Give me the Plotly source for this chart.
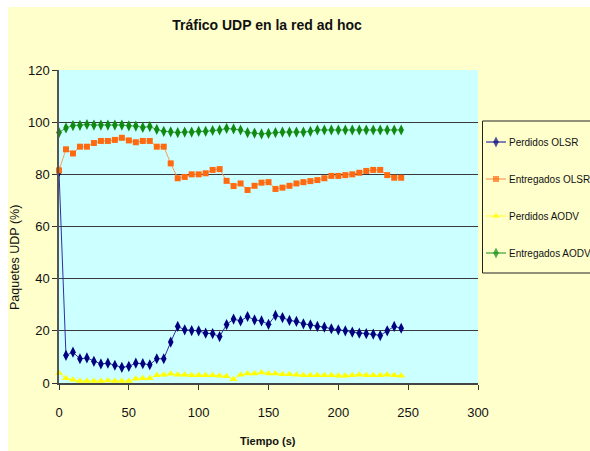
import plotly.graph_objects as go

# Time axis (s), one sample every 5 s
tiempo = list(range(0, 250, 5))

perdidos_olsr = [81, 10.6, 11.8, 9.3, 9.6, 8.3, 7.3, 7.6, 6.8, 6.0,
                 6.4, 7.6, 7.4, 7.0, 9.3, 9.3, 15.7, 21.7, 20.4, 20.1,
                 20.0, 19.1, 18.9, 17.8, 22.4, 24.5, 23.8, 25.5, 24.2, 23.8,
                 22.5, 25.9, 25.1, 24.0, 23.6, 22.7, 22.3, 21.7, 21.4, 20.8,
                 20.4, 20.0, 19.5, 19.1, 18.9, 18.7, 18.2, 20.0, 21.7, 21.0]

entregados_olsr = [81.5, 89.6, 88.0, 90.6, 90.6, 92.0, 92.8, 92.8, 93.2, 94.0,
                   93.0, 92.3, 92.8, 92.8, 90.6, 90.6, 84.2, 78.5, 79.0, 80.0,
                   80.0, 80.4, 81.7, 82.0, 77.5, 75.5, 76.5, 74.0, 75.6, 76.8,
                   77.0, 74.4, 74.9, 75.6, 76.5, 77.0, 77.4, 77.8, 78.5, 79.4,
                   79.4, 79.7, 80.0, 80.6, 81.3, 81.7, 81.7, 79.7, 78.7, 78.7]

perdidos_aodv = [3.8, 1.8, 1.2, 0.8, 0.8, 0.8, 0.8, 1.0, 0.8, 0.8,
                 0.8, 1.6, 1.8, 1.8, 3.0, 3.2, 3.5, 3.2, 3.2, 3.0,
                 3.0, 3.0, 3.0, 2.8, 2.6, 1.4, 3.2, 3.6, 3.6, 4.0,
                 3.6, 3.6, 3.4, 3.4, 3.2, 3.0, 3.0, 3.0, 3.0, 3.0,
                 2.8, 2.8, 3.0, 3.2, 3.0, 3.0, 3.0, 3.2, 3.0, 2.8]

entregados_aodv = [96.0, 97.8, 98.7, 98.8, 99.1, 98.9, 98.9, 98.9, 98.9, 98.9,
                   98.6, 98.5, 98.0, 98.3, 97.2, 96.5, 96.3, 96.0, 96.2, 96.2,
                   96.5, 96.5, 96.8, 97.0, 97.6, 97.4, 97.0, 96.0, 95.8, 95.5,
                   95.7, 96.0, 96.2, 96.2, 96.2, 96.2, 96.5, 97.0, 97.0, 97.0,
                   97.0, 97.0, 97.0, 97.0, 97.0, 97.0, 97.0, 97.0, 97.0, 97.0]

series_names = ["Perdidos OLSR", "Entregados OLSR", "Perdidos AODV", "Entregados AODV"]
x_ticks = [0, 50, 100, 150, 200, 250, 300]
y_ticks = [0, 20, 40, 60, 80, 100, 120]

FONT = "Liberation Sans, Arial, sans-serif"
W, H = 590, 451
L, R, T, B = 59, 0, 70, 68
PW, PH = W - L - R, H - T - B
PLOT_RIGHT = 478          # right edge of the data area (px)
LEG_LEFT = 482            # left edge of the key box (px)

YELLOW = "#FFFFCC"
CYAN = "#CCFFFF"


def px_x(p):
    return (p - L) / PW


def px_y(p):
    return (H - B - p) / PH


styles = [
    dict(mcol="#000080", lcol="#3030a0", sym="diamond-tall", size=8),
    dict(mcol="#FF6A10", lcol="#FF9a5a", sym="square", size=6),
    dict(mcol="#FFFF00", lcol="#FFFF40", sym="triangle-up", size=7),
    dict(mcol="#118a11", lcol="#3aa03a", sym="diamond-tall", size=8),
]
values = [perdidos_olsr, entregados_olsr, perdidos_aodv, entregados_aodv]

fig = go.Figure()
for name, vals, st in zip(series_names, values, styles):
    fig.add_trace(go.Scatter(
        x=tiempo, y=vals, name=name, mode="lines+markers",
        line=dict(color=st["lcol"], width=1),
        marker=dict(symbol=st["sym"], size=st["size"], color=st["mcol"], line=dict(width=0)),
        cliponaxis=False, showlegend=False, xaxis="x", yaxis="y",
    ))

# Key: a small pixel-scaled subplot on the right holding the line/marker samples
key_rows = [142, 179, 216, 253]
annotations = []
for name, st, yc in zip(series_names, styles, key_rows):
    fig.add_trace(go.Scatter(
        x=[486, 496, 506], y=[yc, yc, yc], mode="lines+markers",
        line=dict(color=st["lcol"], width=1.2),
        marker=dict(symbol=st["sym"], size=[0, st["size"], 0], color=st["mcol"], line=dict(width=0)),
        showlegend=False, hoverinfo="skip", xaxis="x2", yaxis="y2", cliponaxis=False,
    ))
    annotations.append(dict(text=name, xref="x2", yref="y2", x=507, y=yc,
                            xanchor="left", yanchor="middle", showarrow=False,
                            font=dict(family=FONT, size=10, color="#111111")))

annotations += [
    dict(text="Paquetes UDP (%)", textangle=-90, xref="paper", yref="paper",
         x=px_x(15), y=px_y(258), xanchor="center", yanchor="middle",
         showarrow=False, font=dict(family=FONT, size=12.5, color="#111111")),
    dict(text="<b>Tiempo (s)</b>", xref="paper", yref="paper",
         x=px_x(268), y=px_y(441), xanchor="center", yanchor="middle",
         showarrow=False, font=dict(family=FONT, size=11, color="#111111")),
]

fig.update_layout(
    width=W, height=H,
    margin=dict(l=L, r=R, t=T, b=B, autoexpand=False),
    paper_bgcolor=YELLOW,
    plot_bgcolor=YELLOW,
    font=dict(family=FONT, size=12, color="#111111"),
    title=dict(text="<b>Tráfico UDP en la red ad hoc</b>", x=px_x(267), xref="paper",
               xanchor="center", y=1 - 25 / H, yanchor="middle",
               font=dict(family=FONT, size=14, color="#111111")),
    showlegend=False,
    xaxis=dict(domain=[0, px_x(PLOT_RIGHT)], range=[0, 300], tickvals=x_ticks,
               ticks="outside", ticklen=5, tickcolor="#333333",
               showline=True, linecolor="#444444", linewidth=1.5,
               showgrid=False, zeroline=False, ticklabelstandoff=12,
               tickfont=dict(family=FONT, size=13, color="#111111")),
    yaxis=dict(range=[0, 120], tickvals=y_ticks, ticks="outside", ticklen=5,
               tickcolor="#333333", showline=True, linecolor="#555555", linewidth=1.5,
               showgrid=True, gridcolor="#3a3a3a", gridwidth=1.3, zeroline=False,
               tickfont=dict(family=FONT, size=13, color="#111111")),
    xaxis2=dict(domain=[px_x(LEG_LEFT), 1], range=[LEG_LEFT, W], visible=False,
                fixedrange=True, anchor="y2"),
    yaxis2=dict(domain=[0, 1], range=[H - B, T], visible=False,
                fixedrange=True, anchor="x2"),
    shapes=[
        # data-area fill
        dict(type="rect", xref="x domain", yref="y domain", layer="below",
             x0=0, x1=1, y0=0, y1=1, fillcolor=CYAN, line=dict(width=0)),
        # white frame strips at the top and left edges
        dict(type="rect", xref="paper", yref="paper", layer="below",
             x0=px_x(-2), x1=px_x(W + 2), y0=px_y(7), y1=px_y(-2),
             fillcolor="white", line=dict(width=0)),
        dict(type="rect", xref="paper", yref="paper", layer="below",
             x0=px_x(-2), x1=px_x(8), y0=px_y(H + 2), y1=px_y(-2),
             fillcolor="white", line=dict(width=0)),
        # key box (runs past the right edge)
        dict(type="rect", xref="x2", yref="y2", layer="below",
             x0=LEG_LEFT + 0.5, x1=W + 20, y0=121, y1=273,
             fillcolor=YELLOW, line=dict(color="#222222", width=1)),
    ],
    annotations=annotations,
)

fig.write_html("out.html")
